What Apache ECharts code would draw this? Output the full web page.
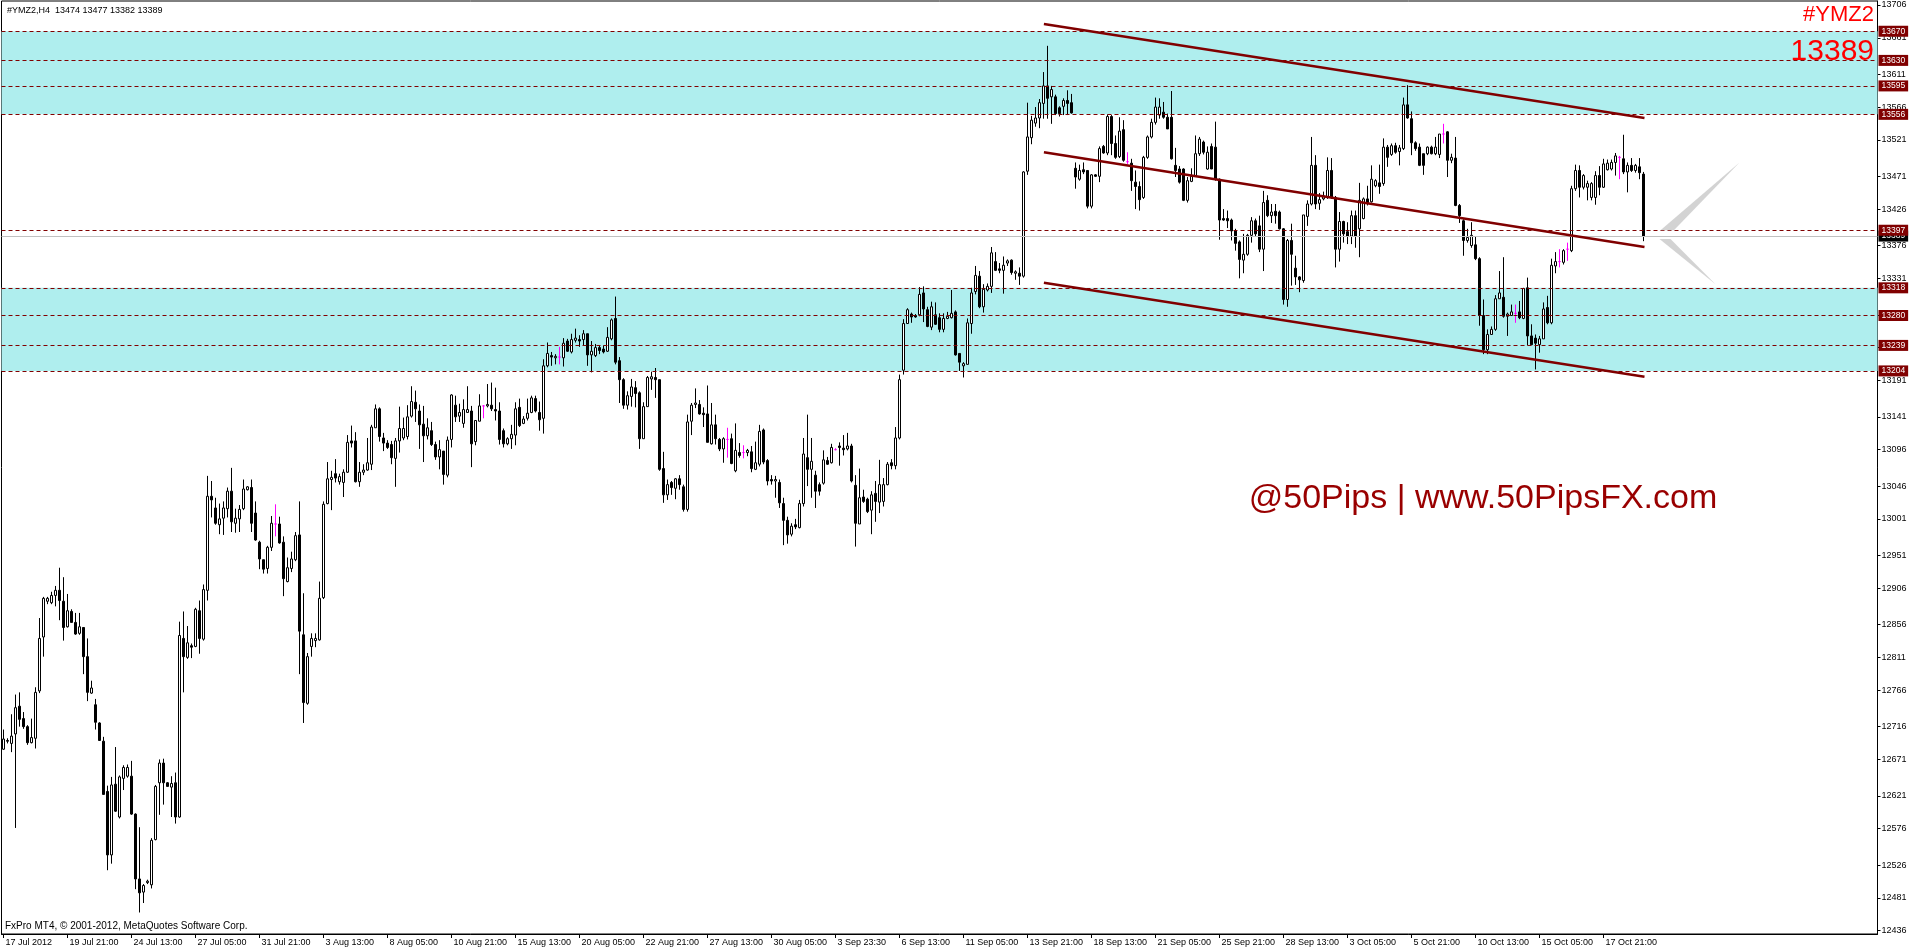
<!DOCTYPE html>
<html><head><meta charset="utf-8">
<script src="https://cdn.jsdelivr.net/npm/echarts@6/dist/echarts.min.js"></script>
<style>html,body{margin:0;padding:0;background:#fff}#c{width:1914px;height:951px}</style>
</head><body><div id="c"></div>
<script>
// ---- data (H4 bars of #YMZ2) ----
const open=[
12685,12697,12693,12706,12744,12727,12716,12694,12700,12765,
12839,12888,12886,12896,12903,12888,12853,12874,12859,12844,
12852,12812,12762,12746,12721,12696,12627,12540,12637,12592,
12645,12648,12648,12596,12507,12489,12502,12499,12561,12639,
12666,12639,12633,12639,12592,12837,12811,12827,12826,12875,
12836,12903,13032,13016,12993,13002,13015,13039,12995,13001,
13015,13041,13044,13009,12969,12945,12933,12962,12994,12994,
12969,12915,12933,12945,12979,12842,12748,12826,12834,12835,
12893,13022,13055,13063,13052,13051,13065,13108,13108,13052,
13065,13068,13076,13126,13152,13112,13105,13103,13084,13108,
13112,13114,13142,13161,13149,13131,13115,13122,13103,13086,
13094,13061,13110,13157,13142,13132,13147,13149,13107,13135,
13156,13156,13157,13151,13149,13122,13104,13111,13116,13154,
13132,13139,13147,13166,13147,13139,13211,13225,13222,13223,
13222,13245,13230,13246,13247,13247,13255,13226,13225,13236,
13234,13231,13248,13276,13218,13192,13157,13169,13181,13174,
13111,13155,13193,13195,13192,13070,13034,13051,13043,13056,
13045,13014,13135,13158,13158,13146,13145,13104,13130,13110,
13097,13110,13111,13067,13092,13092,13092,13093,13069,13076,
13123,13081,13055,13053,13051,13022,12999,12980,12993,12989,
13022,13085,13069,13061,13048,13050,13081,13078,13096,13101,
13098,13097,13101,13047,12994,13031,13028,13013,13036,13024,
13025,13048,13078,13074,13112,13205,13269,13282,13280,13281,
13311,13288,13264,13281,13277,13261,13276,13277,13285,13228,
13211,13213,13269,13313,13334,13292,13315,13320,13354,13344,
13342,13352,13356,13338,13338,13334,13478,13524,13544,13551,
13571,13595,13580,13580,13565,13567,13575,13572,13482,13467,
13480,13479,13430,13473,13471,13512,13503,13553,13516,13498,
13535,13491,13489,13463,13457,13442,13497,13525,13545,13555,
13559,13552,13552,13486,13481,13481,13438,13464,13472,13502,
13518,13481,13512,13511,13467,13413,13413,13411,13396,13381,
13356,13364,13390,13410,13403,13371,13438,13417,13423,13422,
13399,13302,13383,13345,13333,13328,13416,13433,13486,13434,
13440,13442,13479,13442,13371,13409,13395,13389,13417,13399,
13413,13440,13436,13458,13462,13461,13511,13501,13513,13505,
13509,13569,13550,13517,13511,13502,13502,13511,13502,13501,
13529,13532,13493,13496,13431,13410,13383,13376,13377,13358,
13280,13233,13254,13261,13303,13305,13279,13280,13283,13285,
13276,13318,13252,13249,13240,13248,13291,13270,13348,13354,
13353,13371,13369,13454,13479,13456,13456,13442,13442,13472,
13456,13480,13481,13490,13497,13495,13477,13486,13479,13484,
13474];
const high=[
12712,12700,12733,12760,12763,12736,12718,12727,12770,12865,
12894,12894,12901,12909,12934,12921,12898,12877,12872,12872,
12852,12837,12779,12754,12722,12702,12635,12647,12688,12649,
12663,12664,12669,12597,12578,12500,12506,12563,12636,12671,
12672,12640,12648,12653,12860,12874,12854,12830,12879,12889,
12911,13060,13053,13030,13022,13025,13044,13071,13015,13020,
13055,13046,13055,13025,12971,12945,12964,13005,13021,13004,
12977,12948,12956,12983,13025,12899,12817,12844,12844,12915,
13025,13079,13067,13083,13063,13069,13116,13129,13120,13079,
13076,13112,13130,13158,13154,13119,13109,13108,13112,13155,
13140,13157,13183,13177,13158,13156,13139,13134,13107,13109,
13094,13114,13172,13170,13159,13165,13183,13156,13136,13172,
13157,13186,13188,13181,13161,13125,13113,13130,13161,13166,
13142,13166,13170,13170,13162,13220,13243,13230,13227,13237,
13249,13248,13255,13262,13253,13260,13255,13245,13241,13239,
13239,13264,13276,13306,13223,13194,13176,13193,13190,13176,
13161,13197,13203,13208,13192,13093,13055,13053,13057,13061,
13048,13144,13160,13180,13164,13154,13184,13160,13144,13112,
13113,13126,13118,13132,13105,13102,13097,13101,13107,13130,
13125,13083,13061,13060,13055,13030,13004,12995,13001,13027,
13112,13144,13112,13067,13051,13095,13086,13104,13098,13106,
13116,13119,13104,13061,13070,13041,13030,13039,13053,13082,
13057,13079,13083,13127,13199,13275,13290,13284,13282,13319,
13320,13292,13299,13298,13283,13283,13285,13315,13287,13228,
13216,13276,13318,13348,13341,13323,13324,13374,13367,13352,
13361,13357,13357,13342,13346,13478,13572,13554,13566,13577,
13614,13650,13595,13583,13567,13578,13589,13584,13490,13487,
13490,13479,13474,13474,13512,13514,13556,13555,13527,13552,
13548,13504,13495,13479,13464,13499,13527,13550,13579,13578,
13573,13557,13588,13510,13485,13482,13470,13482,13527,13525,
13520,13512,13516,13546,13468,13426,13424,13413,13399,13383,
13392,13392,13415,13413,13417,13451,13445,13433,13433,13424,
13400,13385,13406,13362,13334,13418,13438,13525,13500,13448,
13450,13497,13496,13444,13422,13410,13408,13424,13424,13462,
13442,13458,13486,13467,13487,13523,13514,13516,13517,13514,
13579,13596,13560,13519,13516,13502,13512,13513,13525,13529,
13543,13533,13502,13525,13433,13412,13399,13408,13389,13360,
13302,13261,13265,13308,13341,13360,13284,13295,13295,13300,
13318,13332,13268,13254,13252,13298,13307,13358,13367,13371,
13371,13380,13458,13487,13486,13474,13465,13463,13478,13485,
13495,13494,13494,13503,13499,13528,13490,13496,13488,13496,
13477];
const low=[
12684,12693,12681,12577,12716,12713,12691,12693,12686,12762,
12812,12884,12884,12881,12862,12834,12852,12859,12842,12842,
12788,12751,12761,12712,12697,12623,12519,12528,12599,12590,
12629,12646,12595,12493,12461,12474,12500,12494,12560,12595,
12609,12634,12592,12583,12591,12763,12809,12810,12825,12816,
12834,12889,13003,12993,12980,12979,13003,12983,12982,12983,
13013,13040,12983,12971,12932,12926,12926,12957,12977,12967,
12895,12914,12928,12943,12788,12721,12746,12812,12825,12834,
12891,13021,13013,13051,13048,13031,13064,13099,13051,13045,
13061,13067,13068,13126,13107,13094,13097,13076,13045,13092,
13109,13110,13140,13134,13097,13079,13110,13101,13082,13069,
13048,13058,13099,13134,13134,13126,13147,13072,13102,13135,
13139,13154,13149,13136,13103,13099,13102,13097,13102,13127,
13131,13136,13146,13147,13122,13118,13209,13211,13213,13213,
13210,13230,13228,13243,13237,13239,13211,13202,13223,13227,
13228,13230,13246,13213,13160,13152,13151,13155,13154,13097,
13111,13155,13178,13167,13067,13023,13027,13034,13028,13041,
13011,13011,13116,13153,13144,13127,13106,13103,13103,13094,
13078,13085,13076,13065,13085,13084,13087,13065,13068,13073,
13076,13047,13048,13030,13016,12965,12967,12977,12987,12988,
13018,13046,13030,13016,13033,13048,13075,13077,13095,13074,
13088,13095,13051,12963,12994,13023,13009,12980,12997,13009,
13018,13047,13069,13069,13110,13199,13269,13270,13277,13279,
13271,13264,13260,13267,13257,13257,13275,13276,13225,13204,
13195,13213,13255,13309,13290,13284,13313,13311,13341,13338,
13310,13348,13336,13329,13322,13332,13473,13515,13539,13537,
13550,13550,13543,13555,13553,13555,13555,13557,13454,13465,
13474,13427,13427,13470,13463,13502,13500,13500,13495,13496,
13491,13488,13451,13426,13424,13440,13495,13523,13542,13550,
13550,13536,13494,13470,13461,13437,13435,13463,13470,13499,
13501,13480,13481,13465,13384,13410,13400,13383,13369,13331,
13338,13362,13380,13389,13367,13341,13415,13407,13406,13398,
13295,13292,13321,13322,13312,13325,13403,13431,13426,13425,
13438,13440,13440,13346,13354,13380,13378,13378,13373,13360,
13412,13431,13435,13456,13447,13458,13484,13499,13502,13486,
13507,13550,13500,13506,13485,13473,13500,13501,13500,13496,
13516,13470,13489,13430,13407,13362,13380,13373,13356,13266,
13227,13227,13254,13259,13303,13277,13252,13280,13270,13275,
13275,13239,13240,13206,13229,13248,13268,13268,13338,13346,
13350,13355,13367,13451,13442,13453,13438,13438,13432,13445,
13455,13479,13479,13472,13467,13474,13449,13477,13476,13467,
13382];
const close=[
12699,12696,12703,12742,12726,12716,12694,12701,12763,12837,
12892,12892,12896,12903,12889,12852,12875,12859,12843,12853,
12812,12763,12769,12722,12697,12623,12540,12636,12600,12647,
12660,12660,12596,12507,12488,12498,12504,12560,12634,12666,
12639,12634,12638,12592,12841,12812,12831,12825,12877,12837,
12904,13032,13027,12995,13001,13016,13039,12997,13002,13014,
13042,13045,12995,12972,12946,12932,12962,12995,12994,12968,
12919,12934,12946,12978,12847,12749,12812,12837,12837,12892,
13021,13056,13058,13057,13059,13065,13106,13105,13052,13065,
13068,13078,13127,13152,13114,13105,13099,13085,13108,13125,
13125,13141,13162,13152,13130,13115,13126,13103,13086,13096,
13062,13109,13171,13141,13147,13151,13151,13104,13136,13156,
13156,13158,13152,13149,13110,13104,13111,13117,13152,13129,
13138,13146,13167,13149,13137,13211,13228,13223,13224,13223,
13242,13231,13247,13249,13245,13255,13226,13231,13236,13232,
13230,13250,13274,13216,13192,13157,13170,13182,13173,13111,
13155,13195,13196,13192,13069,13034,13048,13044,13056,13048,
13014,13134,13157,13160,13145,13144,13106,13130,13111,13097,
13111,13110,13077,13095,13088,13092,13095,13070,13078,13121,
13079,13053,13053,13055,13023,12999,12979,12991,12990,13022,
13090,13069,13080,13039,13039,13082,13076,13099,13096,13099,
13096,13101,13053,12995,13030,13025,13011,13034,13025,13048,
13048,13076,13074,13112,13192,13269,13288,13278,13278,13309,
13289,13265,13292,13268,13261,13276,13279,13283,13226,13216,
13214,13270,13311,13335,13292,13316,13320,13366,13342,13342,
13349,13355,13339,13340,13334,13477,13525,13548,13551,13572,
13595,13578,13590,13557,13557,13575,13571,13558,13470,13479,
13477,13430,13473,13471,13509,13503,13553,13516,13497,13533,
13493,13491,13465,13457,13439,13497,13525,13545,13566,13566,
13552,13536,13495,13479,13463,13438,13465,13471,13502,13522,
13504,13504,13481,13467,13411,13411,13410,13396,13379,13357,
13364,13390,13410,13392,13371,13435,13417,13422,13417,13399,
13302,13383,13364,13333,13329,13418,13433,13486,13433,13439,
13444,13479,13442,13371,13409,13392,13389,13417,13389,13438,
13440,13435,13467,13465,13457,13511,13497,13513,13504,13510,
13569,13551,13517,13509,13486,13486,13511,13502,13511,13529,
13529,13493,13497,13431,13417,13383,13387,13390,13358,13280,
13233,13254,13261,13303,13311,13279,13282,13285,13283,13277,
13317,13252,13240,13242,13248,13289,13270,13349,13354,13354,
13369,13371,13454,13479,13456,13472,13461,13461,13472,13456,
13488,13489,13490,13499,13497,13477,13486,13479,13486,13476,
13389];

const xTickLabels=['17 Jul 2012','19 Jul 21:00','24 Jul 13:00','27 Jul 05:00','31 Jul 21:00','3 Aug 13:00','8 Aug 05:00','10 Aug 21:00','15 Aug 13:00','20 Aug 05:00','22 Aug 21:00','27 Aug 13:00','30 Aug 05:00','3 Sep 23:30','6 Sep 13:00','11 Sep 05:00','13 Sep 21:00','18 Sep 13:00','21 Sep 05:00','25 Sep 21:00','28 Sep 13:00','3 Oct 05:00','5 Oct 21:00','10 Oct 13:00','15 Oct 05:00','17 Oct 21:00'];
const yTickValues=[13706,13661,13611,13566,13521,13471,13426,13376,13331,13281,13236,13191,13141,13096,13046,13001,12951,12906,12856,12811,12766,12716,12671,12621,12576,12526,12481,12436];
const levelLines=[13670,13630,13595,13556,13397,13318,13280,13239,13204];
const zones=[[13556,13670],[13204,13318]];
const bidPrice=13389;
const channelLines=[[[260.1,13680],[410.25,13551]],[[260.1,13504],[410.25,13374]],[[260.1,13325],[410.25,13196]]];
const arrowShapes=[[[414.25,13397],[417.6,13397],[434,13490]],[[414,13385],[416.75,13385],[428,13323]]];
const BAR_SLOTS=469;   // chart width in bar slots incl. right shift
const LABEL_EVERY=16;

// ---- build ----
const FONT='"Liberation Sans", Arial, sans-serif';
const slots=Array.from({length:BAR_SLOTS},(_,i)=>String(i));
const candles=open.map((o,i)=>[o,close[i],Math.min(low[i],o,close[i]),Math.max(high[i],o,close[i])]);
const showTick=(idx)=>idx%LABEL_EVERY===0 && idx/LABEL_EVERY<xTickLabels.length;

const chart=echarts.init(document.getElementById('c'),null,{renderer:'canvas'});
chart.setOption({
  animation:false,
  backgroundColor:'#fff',
  grid:{left:1.5,right:36.5,top:1,bottom:17,show:true,borderColor:'#000',borderWidth:1,backgroundColor:'#fff'},
  xAxis:[{
    type:'category',data:slots,boundaryGap:true,
    axisLine:{show:true,onZero:false,lineStyle:{color:'#000'}},
    axisTick:{show:true,interval:showTick,alignWithLabel:true,length:4,lineStyle:{color:'#000'}},
    axisLabel:{interval:showTick,formatter:(v)=>xTickLabels[Number(v)/LABEL_EVERY]||'',align:'left',margin:4,padding:[0,0,0,2],
      fontSize:9,color:'#000',fontFamily:FONT,hideOverlap:false},
    splitLine:{show:false}
  },{
    type:'value',min:-0.5,max:BAR_SLOTS-0.5,show:false,axisLine:{onZero:false}
  }],
  yAxis:{
    type:'value',position:'right',min:12431.5,max:13711.5,
    axisLine:{show:true,onZero:false,lineStyle:{color:'#000'}},
    axisTick:{show:true,length:3,customValues:yTickValues,lineStyle:{color:'#000'}},
    axisLabel:{customValues:yTickValues,formatter:(v)=>String(v),fontSize:9,margin:4,color:'#000',fontFamily:FONT},
    splitLine:{show:false}
  },
  series:[
    {name:'zones',type:'line',xAxisIndex:1,data:[],z:1,silent:true,
      markArea:{silent:true,itemStyle:{color:'#AFEEEE'},data:zones.map(z=>[{yAxis:z[0]},{yAxis:z[1]}])}},
    {name:'bid',type:'line',xAxisIndex:1,data:[],z:2,silent:true,
      markLine:{silent:true,symbol:'none',animation:false,
        lineStyle:{color:'#C0C0C0',type:'solid',width:1},
        label:{show:true,position:'end',distance:1,formatter:(p)=>String(p.value),color:'#fff',backgroundColor:'#000',
          padding:[1,3,0,3],fontSize:8.5,fontFamily:FONT,lineHeight:10},
        data:[{yAxis:bidPrice}]}},
    {name:'levels',type:'line',xAxisIndex:1,data:[],z:3,silent:true,
      markLine:{silent:true,symbol:'none',animation:false,
        lineStyle:{color:'#800000',type:[4,3],width:1},
        label:{show:true,position:'end',distance:1,formatter:(p)=>String(p.value),color:'#fff',backgroundColor:'#800000',
          padding:[1,3,0,3],fontSize:8.5,fontFamily:FONT,lineHeight:10},
        data:levelLines.map(v=>({yAxis:v}))}},
    {name:'YMZ2',type:'candlestick',xAxisIndex:0,data:candles,barWidth:2,z:4,silent:true,
      itemStyle:{color:'#fff',color0:'#000',borderColor:'#000',borderColor0:'#000',borderColorDoji:'#FF00FF',borderWidth:1}},
    ...channelLines.map((seg,k)=>({name:'channel'+k,type:'line',xAxisIndex:1,data:seg,showSymbol:false,symbol:'none',z:5,silent:true,
      lineStyle:{color:'#800000',width:2.5}})),
    {name:'arrow',type:'custom',xAxisIndex:1,z:5,silent:true,
      data:arrowShapes.map(s=>s[0]),
      renderItem:(params,api)=>({type:'polygon',shape:{points:arrowShapes[params.dataIndex].map(p=>api.coord(p))},style:{fill:'#D3D3D3'}})}
  ],
  graphic:[
    {type:'text',x:7,y:11,z:10,style:{text:'#YMZ2,H4  13474 13477 13382 13389',fill:'#000',font:'9px '+FONT,verticalAlign:'middle'}},
    {type:'text',x:5,y:926,z:10,style:{text:'FxPro MT4, © 2001-2012, MetaQuotes Software Corp.',fill:'#000',font:'10px '+FONT,verticalAlign:'middle'}},
    {type:'text',x:1874,y:15,z:10,style:{text:'#YMZ2',fill:'#FF0000',font:'22px '+FONT,align:'right',verticalAlign:'middle'}},
    {type:'text',x:1874,y:52,z:10,style:{text:'13389',fill:'#FF0000',font:'30px '+FONT,align:'right',verticalAlign:'middle'}},
    {type:'text',x:1483,y:499,z:10,style:{text:'@50Pips | www.50PipsFX.com',fill:'#990000',font:'34px '+FONT,align:'center',verticalAlign:'middle'}}
  ]
});
</script></body></html>
